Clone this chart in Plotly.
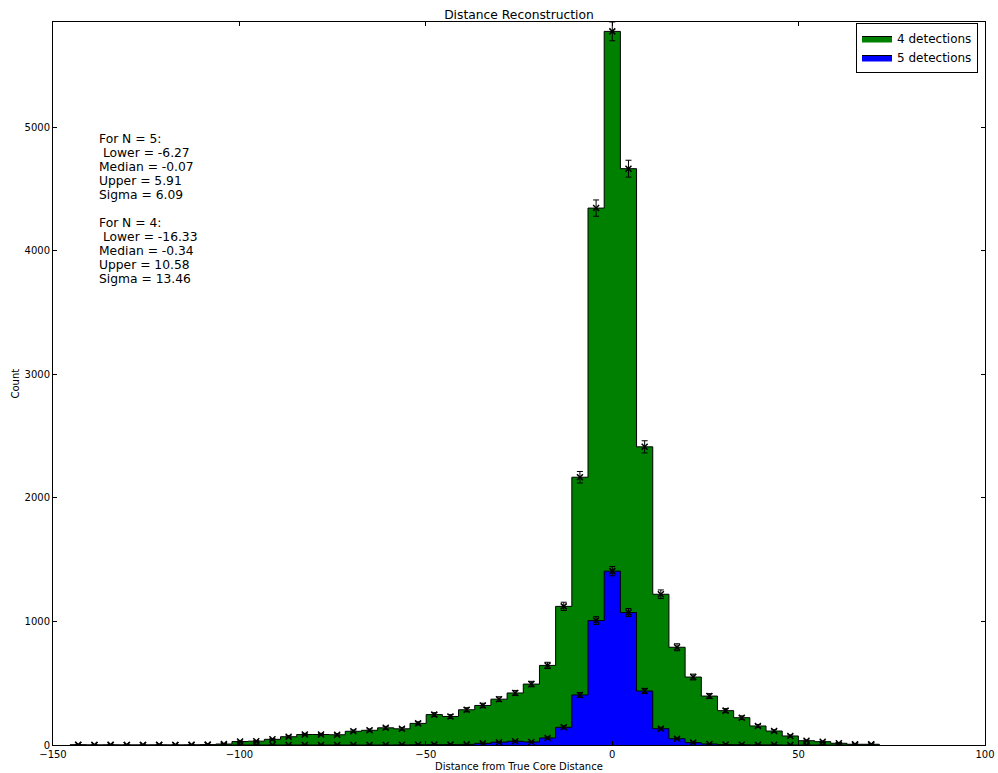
import numpy as np
import plotly.graph_objects as go

# Histogram binning: 50 equal-width bins spanning the data range
bin_lo = -145.40
bin_hi = 71.65
n_bins = 50

# Counts per bin, events with 4 detections
counts_4 = [2, 0, 1, 0, 0, 1, 0, 1, 3, 8,
            28, 31, 46, 67, 85, 85, 83, 111, 119, 139,
            131, 175, 246, 231, 285, 320, 371, 421, 493, 644,
            1122, 2167, 4345, 5775, 4664, 2413, 1220, 791, 550, 396,
            278, 221, 154, 113, 73, 35, 27, 14, 6, 6]

# Counts per bin, events with 5 detections
counts_5 = [0, 0, 0, 0, 0, 0, 0, 0, 0, 0,
            0, 0, 0, 0, 0, 0, 0, 0, 0, 0,
            1, 2, 3, 3, 5, 13, 23, 30, 25, 57,
            143, 405, 1007, 1407, 1072, 437, 132, 51, 19, 8,
            3, 2, 1, 1, 0, 0, 0, 0, 0, 0]

series_names = ["4 detections", "5 detections"]
series_colors = ["#008000", "#0000ff"]

summary_lines = [
    "For N = 5:",
    "\u00a0Lower = -6.27",
    "Median = -0.07",
    "Upper = 5.91",
    "Sigma = 6.09",
    "",
    "For N = 4:",
    "\u00a0Lower = -16.33",
    "Median = -0.34",
    "Upper = 10.58",
    "Sigma = 13.46",
]

x_ticks = [-150, -100, -50, 0, 50, 100]
y_ticks = [0, 1000, 2000, 3000, 4000, 5000]

edges = np.linspace(bin_lo, bin_hi, n_bins + 1)
centers = 0.5 * (edges[:-1] + edges[1:])

W, H = 998, 773
M_L, M_R, M_T, M_B = 53, 13, 22, 28
plot_w = W - M_L - M_R
plot_h = H - M_T - M_B


def px_x(px):
    return (px - M_L) / plot_w


def px_y(py):
    return 1 - (py - M_T) / plot_h


fig = go.Figure()


def step_outline(counts):
    """Closed step outline of a histogram (stepfilled style)."""
    xs = [edges[0]] + list(edges[:-1]) + [edges[-1], edges[-1]]
    ys = [0] + list(counts) + [counts[-1], 0]
    return xs, ys


for name, color, counts in zip(series_names, series_colors, [counts_4, counts_5]):
    xs, ys = step_outline(counts)
    fig.add_trace(go.Scatter(
        x=xs, y=ys, mode="lines", line=dict(shape="hv", color="black", width=1),
        fill="tozeroy", fillcolor=color, name=name, hoverinfo="skip",
    ))

# Poisson error bars at the bin centres
for counts in [counts_4, counts_5]:
    c = np.array(counts, dtype=float)
    fig.add_trace(go.Scatter(
        x=centers, y=c, mode="markers", showlegend=False,
        marker=dict(symbol="x-thin", size=6, line=dict(width=1.5, color="black"), color="black"),
        error_y=dict(type="data", array=np.sqrt(c), color="black", thickness=1, width=3),
    ))

all_counts = np.array(counts_4 + counts_5, dtype=float)
y_top = float(np.max(all_counts + np.sqrt(all_counts)))

axis_common = dict(
    showline=True, linecolor="black", linewidth=1, mirror="allticks",
    ticks="inside", ticklen=4, tickcolor="black", tickwidth=1,
    showgrid=False, zeroline=False, automargin=False,
    tickfont=dict(family="DejaVu Sans", size=10, color="black"),
)

fig.update_layout(
    width=W, height=H,
    margin=dict(l=M_L, r=M_R, t=M_T, b=M_B),
    paper_bgcolor="white", plot_bgcolor="white",
    font=dict(family="DejaVu Sans", color="black"),
    title=dict(text="Distance Reconstruction", font=dict(size=12.3, color="black"),
               x=0.5, xref="paper", xanchor="center",
               y=1 - 15 / H, yref="container", yanchor="middle"),
    xaxis=dict(range=[-150, 100], tickvals=x_ticks, **axis_common),
    yaxis=dict(range=[0, y_top], tickvals=y_ticks, ticktext=[str(v) for v in y_ticks],
               **axis_common),
    legend=dict(x=px_x(978), y=px_y(23),
                xanchor="right", yanchor="top",
                bordercolor="black", borderwidth=1, bgcolor="white",
                font=dict(size=12, color="black"), tracegroupgap=0,
                itemwidth=30),
    showlegend=True,
)

# Axis titles
fig.add_annotation(text="Distance from True Core Distance", xref="paper", yref="paper",
                   x=0.5, y=px_y(767), xanchor="center", yanchor="middle", showarrow=False,
                   font=dict(family="DejaVu Sans", size=10, color="black"))
fig.add_annotation(text="Count", xref="paper", yref="paper", textangle=-90,
                   x=px_x(15), y=0.5, xanchor="center", yanchor="middle", showarrow=False,
                   font=dict(family="DejaVu Sans", size=10, color="black"))

# Summary statistics text block, one annotation per line
line_step = 14.0
first_center = 139.0
for i, txt in enumerate(summary_lines):
    if not txt:
        continue
    yc = first_center + i * line_step
    fig.add_annotation(
        text=txt, xref="paper", yref="paper",
        x=px_x(97), y=px_y(yc),
        xanchor="left", yanchor="middle", showarrow=False,
        font=dict(family="DejaVu Sans", size=12.3, color="black"),
    )

fig.write_html("out.html")
